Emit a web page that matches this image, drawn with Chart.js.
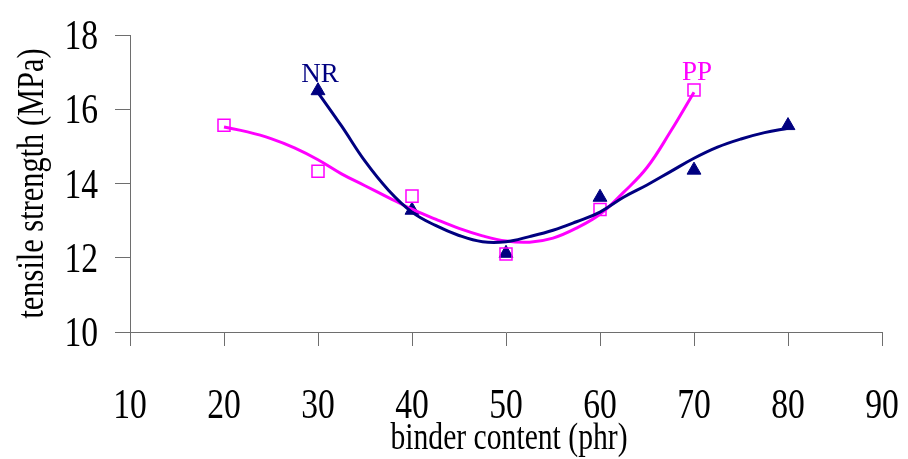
<!DOCTYPE html>
<html>
<head>
<meta charset="utf-8">
<script src="https://cdn.jsdelivr.net/npm/chart.js@4/dist/chart.umd.min.js"></script>
<style>
  html, body { margin: 0; padding: 0; background: #fff; }
  #wrap { width: 908px; height: 459px; }
</style>
</head>
<body>
<div id="wrap"><canvas id="tensileChart"></canvas></div>
<script>
// measured points
const nrX = [30, 40, 50, 60, 70, 80];
const nrY = [16.5, 13.28, 12.12, 13.63, 14.36, 15.56];
const ppX = [20, 30, 40, 50, 60, 70];
const ppY = [15.57, 14.33, 13.66, 12.1, 13.3, 16.52];

// trend lines
const nrCurveX = [30, 32.5, 35, 37.5, 40, 42.5, 45, 47.5, 50, 52.5, 55, 57.5, 60, 62.5, 65, 67.5, 70, 72.5, 75, 77.5, 80];
const nrCurveY = [16.45, 15.55, 14.6, 13.82, 13.23, 12.87, 12.6, 12.43, 12.43, 12.57, 12.74, 12.97, 13.23, 13.63, 13.96, 14.32, 14.68, 14.98, 15.2, 15.37, 15.49];
const ppCurveX = [20, 22.5, 25, 27.5, 30, 32.5, 35, 37.5, 40, 42.5, 45, 47.5, 50, 52.5, 55, 57.5, 60, 62.5, 65, 67.5, 70];
const ppCurveY = [15.52, 15.39, 15.21, 14.96, 14.64, 14.26, 13.94, 13.62, 13.31, 13.04, 12.79, 12.59, 12.45, 12.42, 12.53, 12.8, 13.17, 13.76, 14.43, 15.4, 16.46];

const xTicks = [10, 20, 30, 40, 50, 60, 70, 80, 90];
const yTicks = [10, 12, 14, 16, 18];

const NAVY = "#000080";
const MAGENTA = "#ff00ff";
const SERIF = '"Liberation Serif", "Times New Roman", serif';

const toPoints = (xs, ys) => xs.map((x, i) => ({ x, y: ys[i] }));

// squeezed text, the old plot used a narrow serif
function squeezed(ctx, text, x, y, sx, align, rot) {
  ctx.save();
  ctx.translate(x, y);
  if (rot) ctx.rotate(rot);
  ctx.scale(sx, 1);
  ctx.textAlign = align;
  ctx.textBaseline = "alphabetic";
  ctx.fillText(text, 0, 0);
  ctx.restore();
}

const textPlugin = {
  id: "plotText",
  afterDraw(chart) {
    const { ctx, scales: { x, y }, chartArea } = chart;
    ctx.save();
    ctx.fillStyle = "#000";
    ctx.font = `42px ${SERIF}`;
    xTicks.forEach(v => squeezed(ctx, String(v), x.getPixelForValue(v), chartArea.bottom + 86, 0.8, "center"));
    yTicks.forEach(v => squeezed(ctx, String(v), chartArea.left - 32, y.getPixelForValue(v) + 14, 0.8, "right"));

    ctx.font = `38px ${SERIF}`;
    squeezed(ctx, "binder content (phr)", (chartArea.left + chartArea.right) / 2 + 3, 449, 0.78, "center");
    squeezed(ctx, "tensile strength (MPa)", 43, (chartArea.top + chartArea.bottom) / 2, 0.8, "center", -Math.PI / 2);

    // series names next to their first / last marker
    ctx.font = `27px ${SERIF}`;
    ctx.textAlign = "center";
    ctx.textBaseline = "alphabetic";
    ctx.fillStyle = NAVY;
    ctx.fillText("NR", x.getPixelForValue(nrX[0]) + 2, y.getPixelForValue(nrY[0]) - 9);
    ctx.fillStyle = MAGENTA;
    ctx.fillText("PP", x.getPixelForValue(ppX[ppX.length - 1]) + 3, y.getPixelForValue(ppY[ppY.length - 1]) - 10);
    ctx.restore();
  }
};

const axisColor = "#6e6e6e";

new Chart(document.getElementById("tensileChart"), {
  type: "scatter",
  data: {
    datasets: [
      {
        label: "NR trend",
        data: toPoints(nrCurveX, nrCurveY),
        showLine: true,
        borderColor: NAVY,
        borderWidth: 3,
        pointRadius: 0,
        tension: 0.4,
        order: 0
      },
      {
        label: "PP trend",
        data: toPoints(ppCurveX, ppCurveY),
        showLine: true,
        borderColor: MAGENTA,
        borderWidth: 3,
        pointRadius: 0,
        tension: 0.4,
        order: 1
      },
      {
        label: "NR",
        data: toPoints(nrX, nrY),
        pointStyle: "triangle",
        pointRadius: 8,
        backgroundColor: NAVY,
        borderColor: NAVY,
        borderWidth: 1,
        order: 3
      },
      {
        label: "PP",
        data: toPoints(ppX, ppY),
        pointStyle: "rect",
        pointRadius: 8.5,
        backgroundColor: "rgba(255,255,255,0)",
        borderColor: MAGENTA,
        borderWidth: 1.5,
        order: 2
      }
    ]
  },
  options: {
    responsive: true,
    maintainAspectRatio: false,
    animation: false,
    events: [],
    layout: { padding: { top: 35, right: 26, left: 0, bottom: 0 } },
    plugins: {
      legend: { display: false },
      tooltip: { enabled: false }
    },
    scales: {
      x: {
        type: "linear",
        min: 10,
        max: 90,
        afterBuildTicks: s => { s.ticks = xTicks.map(v => ({ value: v })); },
        ticks: { display: false },
        grid: { drawOnChartArea: false, drawTicks: true, tickLength: 14, color: axisColor },
        border: { color: axisColor, width: 1 },
        afterFit: s => { s.height = 127; }
      },
      y: {
        type: "linear",
        min: 10,
        max: 18,
        afterBuildTicks: s => { s.ticks = yTicks.map(v => ({ value: v })); },
        ticks: { display: false },
        grid: { drawOnChartArea: false, drawTicks: true, tickLength: 15, color: axisColor },
        border: { color: axisColor, width: 1 },
        afterFit: s => { s.width = 130; }
      }
    }
  },
  plugins: [textPlugin]
});
</script>
</body>
</html>
